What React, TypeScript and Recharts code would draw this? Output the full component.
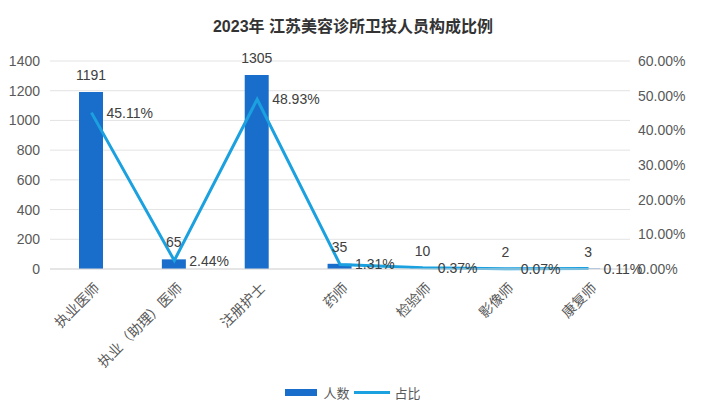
import React from "react";
import {
  ComposedChart,
  Bar,
  Line,
  XAxis,
  YAxis,
  CartesianGrid,
  Legend,
  LabelList,
} from "recharts";

const categories = ["执业医师", "执业（助理）医师", "注册护士", "药师", "检验师", "影像师", "康复师"];
const counts = [1191, 65, 1305, 35, 10, 2, 3];
const shares = [45.11, 2.44, 48.93, 1.31, 0.37, 0.07, 0.11];
const leftTicks = [0, 200, 400, 600, 800, 1000, 1200, 1400];
const rightTicks = [0, 10, 20, 30, 40, 50, 60];
const title = "2023年 江苏美容诊所卫技人员构成比例";

const data = categories.map((name, i) => ({ name, count: counts[i], share: shares[i] }));

const FONT = '"Liberation Sans", "Noto Sans CJK SC", sans-serif';
const BAR_COLOR = "#1A6ECB";
const LINE_COLOR = "#1BA1DF";

const XTick = (props: any) => {
  const { x, y, payload } = props;
  return (
    <g transform={`translate(${x},${y})`}>
      <text
        x={0}
        y={0}
        textAnchor="end"
        fill="#595959"
        fontSize={14}
        fontFamily={FONT}
        transform="translate(9,12) rotate(-45)"
      >
        {payload.value}
      </text>
    </g>
  );
};

const LegendContent = () => (
  <div
    style={{
      display: "flex",
      justifyContent: "center",
      alignItems: "center",
      fontFamily: FONT,
      fontSize: 13,
      color: "#595959",
      height: 24,
    }}
  >
    <span style={{ display: "inline-block", width: 32, height: 7, background: BAR_COLOR, marginRight: 6 }} />
    <span style={{ marginRight: 4 }}>人数</span>
    <span style={{ display: "inline-block", width: 36, height: 3, background: LINE_COLOR, marginRight: 5 }} />
    <span>占比</span>
  </div>
);

export default function App() {
  return (
    <div style={{ position: "absolute", left: 0, top: 0, width: 706, height: 412, background: "#fff" }}>
      <div
        style={{
          position: "absolute",
          left: 0,
          top: 16,
          width: 706,
          textAlign: "center",
          fontFamily: FONT,
          fontWeight: "bold",
          fontSize: 16,
          color: "#333",
          lineHeight: "22px",
        }}
      >
        {title}
      </div>
      <ComposedChart
        width={706}
        height={412}
        data={data}
        margin={{ top: 61, right: 0, left: 0, bottom: 8 }}
      >
        <CartesianGrid vertical={false} stroke="#E3E3E3" yAxisId="l" />
        <XAxis
          dataKey="name"
          xAxisId={0}
          height={111}
          interval={0}
          tickLine={false}
          axisLine={{ stroke: "#D9D9D9" }}
          tick={<XTick />}
        />
        <YAxis
          yAxisId="l"
          width={50}
          domain={[0, 1400]}
          ticks={leftTicks}
          tickLine={false}
          axisLine={false}
          tickSize={0}
          tickMargin={10}
          tick={{ fill: "#595959", fontSize: 14, fontFamily: FONT }}
        />
        <YAxis
          yAxisId="r"
          orientation="right"
          width={76}
          domain={[0, 60]}
          ticks={rightTicks}
          tickLine={false}
          axisLine={false}
          tickSize={0}
          tickMargin={8}
          tickFormatter={(v: number) => `${v.toFixed(2)}%`}
          tick={{ fill: "#595959", fontSize: 14, fontFamily: FONT }}
        />
        <Bar yAxisId="l" dataKey="count" fill={BAR_COLOR} barSize={24} isAnimationActive={false}>
          <LabelList dataKey="count" position="top" offset={12} fill="#404040" fontSize={14} fontFamily={FONT} />
        </Bar>
        <Line
          yAxisId="r"
          dataKey="share"
          stroke={LINE_COLOR}
          strokeWidth={3}
          dot={false}
          type="linear"
          isAnimationActive={false}
        >
          <LabelList
            dataKey="share"
            position="right"
            offset={15}
            fill="#404040"
            fontSize={14}
            fontFamily={FONT}
            formatter={(v: number) => `${v.toFixed(2)}%`}
          />
        </Line>
        <Legend verticalAlign="bottom" height={24} content={<LegendContent />} />
      </ComposedChart>
    </div>
  );
}
